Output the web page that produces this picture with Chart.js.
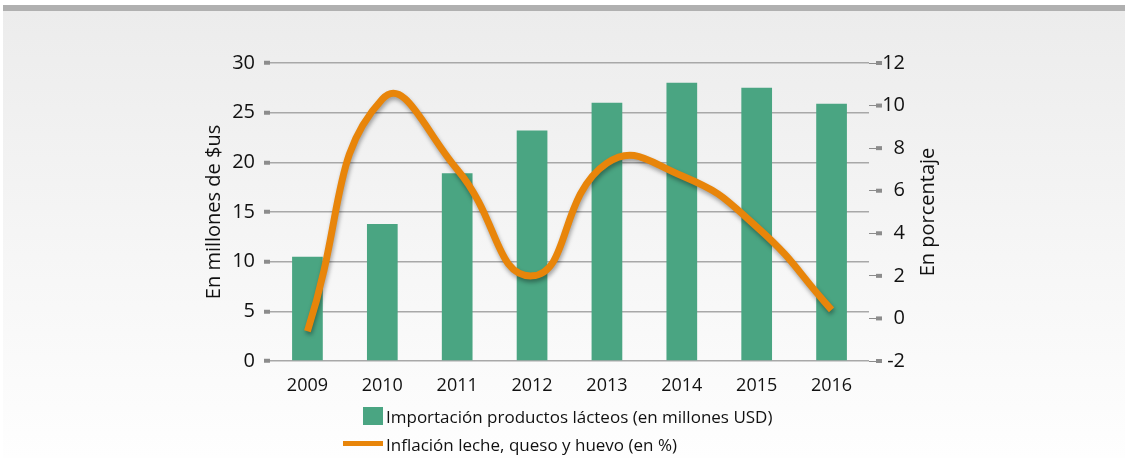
<!DOCTYPE html>
<html>
<head>
<meta charset="utf-8">
<script src="https://cdn.jsdelivr.net/npm/chart.js@4.4.1/dist/chart.umd.min.js"></script>
<style>
  html, body { margin: 0; padding: 0; background: #fff; }
  #frame {
    position: relative; width: 1125px; height: 458px; overflow: hidden;
    font-family: "Open Sans", sans-serif;
  }
  #bg {
    position: absolute; left: 3px; top: 5px; right: 0; bottom: 0;
    background: linear-gradient(to bottom, #ececec 0%, #f6f6f6 55%, #fefefe 100%);
    border-top: 6px solid #b0b0b0;
  }
  #chart { position: absolute; left: 0; top: 0; }
  .legend-row { position: absolute; left: 0; height: 24px; display: flex; align-items: center; font-size: 17px; color: #111; }
  .legend-row span { position: absolute; left: 386px; white-space: nowrap; }
  .swatch { position: absolute; }
</style>
</head>
<body>
<div id="frame">
  <div id="bg"></div>
  <canvas id="chart" width="1125" height="458"></canvas>
  <div id="legend"></div>
</div>
<script>
// Chart data
const years = ['2009', '2010', '2011', '2012', '2013', '2014', '2015', '2016'];
const importValues = [10.5, 13.8, 18.9, 23.2, 26.0, 28.0, 27.5, 25.9];      // millones USD
const inflationValues = [-0.6, 10.3, 7.0, 2.0, 7.3, 6.7, 4.3, 0.4];         // %
const importLabel = 'Importación productos lácteos (en millones USD)';
const inflationLabel = 'Inflación leche, queso y huevo (en %)';
const leftTitle = 'En millones de $us';
const rightTitle = 'En porcentaje';

const green = '#4aa582';
const orange = '#e8850a';
const font = 'Open Sans';

// Small square tick marks on the right axis + its (bottom-to-top) title
const rightAxisExtras = {
    id: 'rightAxisExtras',
    afterDraw(chart) {
        const ctx = chart.ctx;
        const scale = chart.scales.y1;
        ctx.save();
        ctx.fillStyle = '#8c8c8c';
        scale.ticks.forEach((t, i) => {
            const y = scale.getPixelForTick(i);
            ctx.fillRect(scale.left + 7, y - 2, 6, 4);
        });
        ctx.fillStyle = '#111';
        ctx.font = '20px "' + font + '"';
        ctx.textAlign = 'center';
        ctx.textBaseline = 'middle';
        ctx.translate(928, (chart.chartArea.top + chart.chartArea.bottom) / 2);
        ctx.rotate(-Math.PI / 2);
        ctx.fillText(rightTitle, 0, 0);
        ctx.restore();
    }
};

// Drop shadow under the line
const lineShadow = {
    id: 'lineShadow',
    beforeDatasetDraw(chart, args) {
        if (args.index === 0) {
            const ctx = chart.ctx;
            ctx.save();
            ctx.shadowColor = 'rgba(0,0,0,0.35)';
            ctx.shadowBlur = 4;
            ctx.shadowOffsetX = 1;
            ctx.shadowOffsetY = 3;
        }
    },
    afterDatasetDraw(chart, args) {
        if (args.index === 0) chart.ctx.restore();
    }
};

const ctx = document.getElementById('chart').getContext('2d');
new Chart(ctx, {
    data: {
        labels: years,
        datasets: [{
            type: 'line',
            label: inflationLabel,
            data: inflationValues,
            yAxisID: 'y1',
            borderColor: orange,
            borderWidth: 7,
            tension: 0.5,
            pointRadius: 0,
            borderCapStyle: 'butt',
            order: 0
        }, {
            type: 'bar',
            label: importLabel,
            data: importValues,
            yAxisID: 'y',
            backgroundColor: green,
            categoryPercentage: 1,
            barPercentage: 0.41,
            order: 1
        }]
    },
    options: {
        responsive: false,
        animation: false,
        layout: { padding: { left: 197, right: 220, top: 63, bottom: 57 } },
        plugins: { legend: { display: false }, tooltip: { enabled: false } },
        scales: {
            x: {
                offset: true,
                grid: { display: false, drawTicks: false },
                border: { display: false },
                ticks: { color: '#111', font: { family: font, size: 18 }, padding: 14, maxRotation: 0 },
                afterFit(scale) { scale.height = 40; }
            },
            y: {
                position: 'left',
                min: 0, max: 30,
                ticks: { stepSize: 5, color: '#111', font: { family: font, size: 20 }, padding: 9 },
                grid: { color: '#a8a8a8', lineWidth: 1.5, tickLength: 6, tickWidth: 4, tickColor: '#8c8c8c' },
                border: { display: false },
                title: { display: true, text: leftTitle, color: '#111', font: { family: font, size: 20 }, padding: { top: 5, bottom: 0 } },
                afterFit(scale) { scale.width = 73; }
            },
            y1: {
                position: 'right',
                min: -2, max: 12,
                ticks: { stepSize: 2, color: '#111', font: { family: font, size: 20 }, padding: 2, crossAlign: 'far' },
                grid: { drawOnChartArea: false, tickLength: 13, tickWidth: 1, tickColor: '#8c8c8c' },
                border: { display: false },
                afterFit(scale) { scale.width = 36; }
            }
        }
    },
    plugins: [lineShadow, rightAxisExtras]
});

// Legend below the chart
const legend = document.getElementById('legend');
legend.innerHTML = `
  <div class="legend-row" style="top:404px">
    <div class="swatch" style="left:363px;top:3px;width:20px;height:18px;background:${green}"></div>
    <span>${importLabel}</span>
  </div>
  <div class="legend-row" style="top:432px">
    <div class="swatch" style="left:343px;top:9px;width:40px;height:5px;background:${orange}"></div>
    <span>${inflationLabel}</span>
  </div>`;
</script>
</body>
</html>
